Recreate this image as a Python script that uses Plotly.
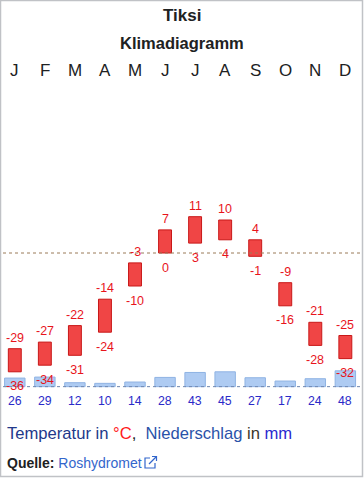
import plotly.graph_objects as go

# ---- data ----
months = ["J", "F", "M", "A", "M", "J", "J", "A", "S", "O", "N", "D"]
temp_max = [-29, -27, -22, -14, -3, 7, 11, 10, 4, -9, -21, -25]
temp_min = [-36, -34, -31, -24, -10, 0, 3, 4, -1, -16, -28, -32]
precip = [26, 29, 12, 10, 14, 28, 43, 45, 27, 17, 24, 48]

title = "Tiksi"
subtitle = "Klimadiagramm"

W, H = 364, 480
FONT = "Liberation Sans, Arial, sans-serif"

# pixel geometry helpers
X0, DX = 14.8, 30.05          # px of first month centre, px per month
Y0, DY = 253.0, 3.3           # px of 0 °C, px per °C
P_BASE = -40.5                # °C level of 0 mm
MM_PER_DEG = 10.0

def px(x):
    return x / W

def py(y):
    return 1 - y / H

xr = [-X0 / DX, (W - X0) / DX]
yr = [(Y0 - H) / DY, Y0 / DY]
y2r = [(yr[0] - P_BASE) * MM_PER_DEG, (yr[1] - P_BASE) * MM_PER_DEG]

idx = list(range(len(months)))

fig = go.Figure()
fig.add_trace(go.Bar(
    x=idx, y=precip, yaxis="y2", width=0.68,
    marker=dict(color="#aecbf2", line=dict(color="#8fb3e3", width=1)),
    hoverinfo="skip",
))
fig.add_trace(go.Bar(
    x=idx, y=[a - b for a, b in zip(temp_max, temp_min)], base=temp_min,
    width=0.43,
    marker=dict(color="#f04545", line=dict(color="#c81818", width=1)),
    hoverinfo="skip",
))

ann = []
# titles
ann.append(dict(text="<b>%s</b>" % title, x=0.5, y=py(16), xref="paper", yref="paper",
                showarrow=False, font=dict(size=17, color="#202122", family=FONT),
                xanchor="center", yanchor="middle"))
ann.append(dict(text="<b>%s</b>" % subtitle, x=0.5, y=py(43), xref="paper", yref="paper",
                showarrow=False, font=dict(size=16.5, color="#202122", family=FONT),
                xanchor="center", yanchor="middle"))
# month letters
for i, m in enumerate(months):
    ann.append(dict(text=m, x=i, y=py(70), xref="x", yref="paper", showarrow=False,
                    font=dict(size=17, color="#202122", family=FONT),
                    xanchor="center", yanchor="middle"))
# temperature labels
for i in idx:
    ann.append(dict(text=str(temp_max[i]), x=i, y=temp_max[i], xref="x", yref="y",
                    yshift=11, showarrow=False,
                    font=dict(size=12.5, color="#e8141c", family=FONT),
                    xanchor="center", yanchor="middle"))
    ann.append(dict(text=str(temp_min[i]), x=i, y=temp_min[i], xref="x", yref="y",
                    yshift=-14.5, showarrow=False,
                    font=dict(size=12.5, color="#e8141c", family=FONT),
                    xanchor="center", yanchor="middle"))
    ann.append(dict(text=str(precip[i]), x=i, y=0, xref="x", yref="y2",
                    yshift=-14, showarrow=False,
                    font=dict(size=12.3, color="#2a2ac8", family=FONT),
                    xanchor="center", yanchor="middle"))
# legend line
legend = ("<span style='color:#22388a'>Temperatur in </span>"
          "<span style='color:#ff1a1a'>°C</span>"
          "<span style='color:#202122'>,\u00a0 </span>"
          "<span style='color:#2a52a8'>Niederschlag</span>"
          "<span style='color:#3a3528'> in </span>"
          "<span style='color:#2a2ad0'>mm</span>")
ann.append(dict(text=legend, x=px(5), y=py(433), xref="paper", yref="paper",
                showarrow=False, font=dict(size=16.6, family=FONT),
                xanchor="left", yanchor="middle"))
ann.append(dict(text="<b>Quelle:</b> <span style='color:#3366cc'>Roshydromet</span>",
                x=px(5), y=py(462.5), xref="paper", yref="paper", showarrow=False,
                font=dict(size=14, color="#202122", family=FONT),
                xanchor="left", yanchor="middle"))

shapes = []
# zero line and precipitation baseline (dotted)
shapes.append(dict(type="line", xref="paper", yref="y", x0=px(3), x1=px(361), y0=0, y1=0,
                   line=dict(color="#9a7a58", width=1, dash="dot")))
shapes.append(dict(type="line", xref="paper", yref="y2", x0=px(3), x1=px(361), y0=0, y1=0,
                   line=dict(color="#6f88b0", width=1, dash="dot")))
# external link icon
ic = "#3366cc"
shapes.append(dict(type="path", xref="paper", yref="paper",
                   path="M %f %f L %f %f L %f %f L %f %f L %f %f" % (
                       px(150), py(458), px(145), py(458), px(145), py(468),
                       px(155), py(468), px(155), py(463)),
                   line=dict(color=ic, width=1.2)))
shapes.append(dict(type="line", xref="paper", yref="paper", x0=px(149), y0=py(464),
                   x1=px(156.5), y1=py(456.5), line=dict(color=ic, width=1.2)))
shapes.append(dict(type="path", xref="paper", yref="paper",
                   path="M %f %f L %f %f L %f %f" % (
                       px(152), py(456.5), px(156.5), py(456.5), px(156.5), py(461)),
                   line=dict(color=ic, width=1.2)))
# outer frame
shapes.append(dict(type="rect", xref="paper", yref="paper", x0=px(0.5), x1=px(362.5),
                   y0=py(476.5), y1=py(0.5), line=dict(color="#c0c2c6", width=1.5)))

fig.update_layout(
    width=W, height=H,
    margin=dict(l=0, r=0, t=0, b=0),
    paper_bgcolor="white", plot_bgcolor="white",
    showlegend=False, barmode="overlay",
    xaxis=dict(range=xr, visible=False, fixedrange=True),
    yaxis=dict(range=yr, visible=False, fixedrange=True),
    yaxis2=dict(range=y2r, visible=False, overlaying="y", fixedrange=True),
    annotations=ann, shapes=shapes,
)

fig.write_html(
    "out.html",
    config=dict(displayModeBar=False),
    post_script="document.body.style.margin='0';document.body.style.overflow='hidden';",
)
